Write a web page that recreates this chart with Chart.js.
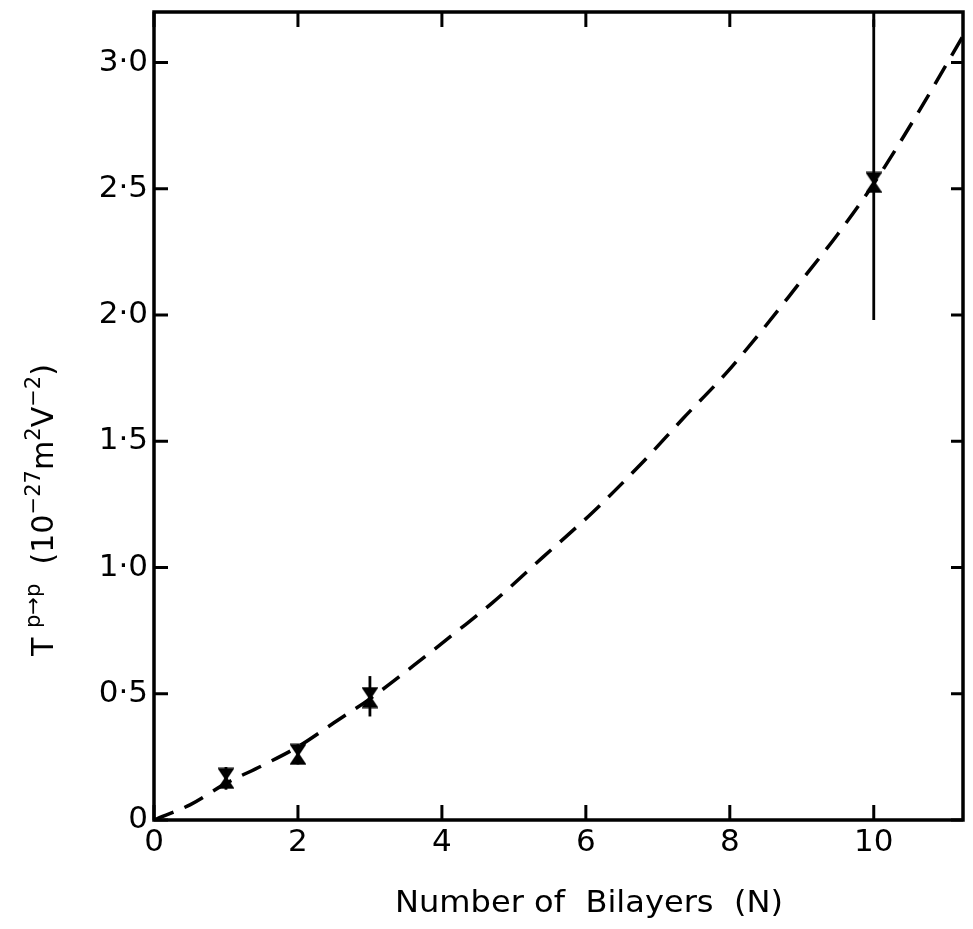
<!DOCTYPE html>
<html><head><meta charset="utf-8">
<script src="https://cdn.jsdelivr.net/npm/chart.js@4/dist/chart.umd.min.js"></script>
<style>html,body{margin:0;padding:0;background:#fff}#wrap{width:973px;height:929px}</style>
</head><body><div id="wrap"><canvas id="c" width="973" height="929"></canvas></div>
<script>
// ---- data ----
const curveN = [0, 0.5, 1, 1.5, 2, 2.5, 3, 3.6, 4.2, 4.7, 5.4, 6.1, 6.8, 7.35, 7.95, 8.45, 8.95, 9.5, 10, 10.55, 11.23];
const curveT = [0, 0.06, 0.145, 0.215, 0.29, 0.385, 0.48, 0.61, 0.745, 0.86, 1.04, 1.22, 1.42, 1.59, 1.77, 1.94, 2.12, 2.32, 2.52, 2.77, 3.10];
const pointsN = [1, 2, 3, 10];
const pointsT = [0.165, 0.26, 0.485, 2.525];
const errLow  = [0.12, 0.22, 0.41, 1.98];
const errHigh = [0.21, 0.30, 0.57, 3.17];
const xTicks = [0, 2, 4, 6, 8, 10];
const xTickLabels = ['0', '2', '4', '6', '8', '10'];
const yTicks = [0, 0.5, 1, 1.5, 2, 2.5, 3];
const yTickLabels = ['0', '0·5', '1·0', '1·5', '2·0', '2·5', '3·0'];
const xTitle = 'Number of  Bilayers  (N)';
const yTitleParts = [
  {t: 'T', sup: false}, {t: ' ', sup: false}, {t: 'p→p', sup: true}, {t: '  (10', sup: false},
  {t: '−27', sup: true}, {t: 'm', sup: false}, {t: '2', sup: true}, {t: 'V', sup: false},
  {t: '−2', sup: true}, {t: ')', sup: false}
];

const FONT = '"DejaVu Sans", "Liberation Sans", sans-serif';

// hourglass marker
function makeMarker() {
  const c = document.createElement('canvas');
  c.width = 16; c.height = 22;
  const g = c.getContext('2d');
  g.strokeStyle = '#000'; g.fillStyle = '#000'; g.lineWidth = 2.8; g.lineJoin = 'miter';
  g.beginPath();
  g.moveTo(2, 2); g.lineTo(14, 2); g.lineTo(2, 20); g.lineTo(14, 20); g.closePath();
  g.stroke();
  g.beginPath();
  g.moveTo(4, 3); g.lineTo(12, 3); g.lineTo(8, 10); g.closePath(); g.fill();
  g.beginPath();
  g.moveTo(4, 19); g.lineTo(12, 19); g.lineTo(8, 12); g.closePath(); g.fill();
  return c;
}
const marker = makeMarker();

const framePlugin = {
  id: 'frame',
  beforeDatasetsDraw(chart) {
    const ctx = chart.ctx, xs = chart.scales.x, ys = chart.scales.y;
    ctx.save();
    ctx.strokeStyle = '#000';
    ctx.lineWidth = 2.8;
    ctx.lineCap = 'butt';
    for (let i = 0; i < pointsN.length; i++) {
      const px = xs.getPixelForValue(pointsN[i]);
      ctx.beginPath();
      ctx.moveTo(px, ys.getPixelForValue(errLow[i]));
      ctx.lineTo(px, ys.getPixelForValue(errHigh[i]));
      ctx.stroke();
    }
    ctx.restore();
  },
  afterDraw(chart) {
    const ctx = chart.ctx, a = chart.chartArea, xs = chart.scales.x, ys = chart.scales.y;
    ctx.save();
    ctx.strokeStyle = '#000';
    ctx.lineWidth = 3.5;
    ctx.strokeRect(a.left, a.top, a.right - a.left, a.bottom - a.top);
    ctx.lineWidth = 3;
    xTicks.forEach(v => {
      const px = xs.getPixelForValue(v);
      ctx.beginPath(); ctx.moveTo(px, a.bottom); ctx.lineTo(px, a.bottom - 15); ctx.stroke();
      ctx.beginPath(); ctx.moveTo(px, a.top); ctx.lineTo(px, a.top + 15); ctx.stroke();
    });
    yTicks.forEach(v => {
      const py = ys.getPixelForValue(v);
      ctx.beginPath(); ctx.moveTo(a.left, py); ctx.lineTo(a.left + 14, py); ctx.stroke();
      ctx.beginPath(); ctx.moveTo(a.right, py); ctx.lineTo(a.right - 12, py); ctx.stroke();
    });
    // x title
    ctx.fillStyle = '#000';
    ctx.font = '30px ' + FONT;
    ctx.textBaseline = 'alphabetic';
    ctx.textAlign = 'left';
    const w = ctx.measureText(xTitle).width;
    const target = 388, sx = target / w;
    ctx.save();
    ctx.translate(395, 912);
    ctx.scale(sx, 1);
    ctx.fillText(xTitle, 0, 0);
    ctx.restore();
    // y title (rotated, with superscripts)
    const mainF = '30px ' + FONT, supF = '21px ' + FONT;
    let total = 0;
    yTitleParts.forEach(p => { ctx.font = p.sup ? supF : mainF; p.w = ctx.measureText(p.t).width; total += p.w; });
    const targetLen = 292, sy = targetLen / total;
    ctx.save();
    ctx.translate(53, 656);
    ctx.rotate(-Math.PI / 2);
    ctx.scale(sy, 1);
    let x = 0;
    yTitleParts.forEach(p => {
      ctx.font = p.sup ? supF : mainF;
      ctx.fillText(p.t, x, p.sup ? -13 : 0);
      x += p.w;
    });
    ctx.restore();
    ctx.restore();
  }
};

new Chart(document.getElementById('c'), {
  type: 'line',
  data: {
    datasets: [
      {
        data: curveN.map((n, i) => ({x: n, y: curveT[i]})),
        borderColor: '#000', borderWidth: 3.5, borderDash: [21, 12],
        pointRadius: 0, fill: false, cubicInterpolationMode: 'monotone'
      },
      {
        data: pointsN.map((n, i) => ({x: n, y: pointsT[i]})),
        showLine: false, pointStyle: marker, pointRadius: 9,
        borderColor: '#000', backgroundColor: '#000'
      }
    ]
  },
  options: {
    responsive: false, animation: false, devicePixelRatio: 1,
    layout: {padding: {top: 12, right: 6, left: 0, bottom: 0}},
    plugins: {legend: {display: false}, tooltip: {enabled: false}},
    scales: {
      x: {
        type: 'linear', min: 0, max: 11.24,
        grid: {display: false, drawTicks: false}, border: {display: false},
        afterBuildTicks: s => { s.ticks = xTicks.map(v => ({value: v})); },
        afterFit: s => { s.height = 109; s.paddingLeft = 0; s.paddingRight = 0; },
        ticks: {
          padding: 4, color: '#000', maxRotation: 0, autoSkip: false,
          font: {family: FONT, size: 31},
          callback: (v) => xTickLabels[xTicks.indexOf(v)]
        }
      },
      y: {
        type: 'linear', min: 0, max: 3.2,
        grid: {display: false, drawTicks: false}, border: {display: false},
        afterBuildTicks: s => { s.ticks = yTicks.map(v => ({value: v})); },
        afterFit: s => { s.width = 154; s.paddingTop = 0; s.paddingBottom = 0; s.paddingLeft = 0; s.paddingRight = 0; },
        ticks: {
          padding: 6, color: '#000', autoSkip: false,
          font: {family: FONT, size: 31},
          callback: (v) => yTickLabels[yTicks.indexOf(v)]
        }
      }
    }
  },
  plugins: [framePlugin]
});
</script>
</body></html>
